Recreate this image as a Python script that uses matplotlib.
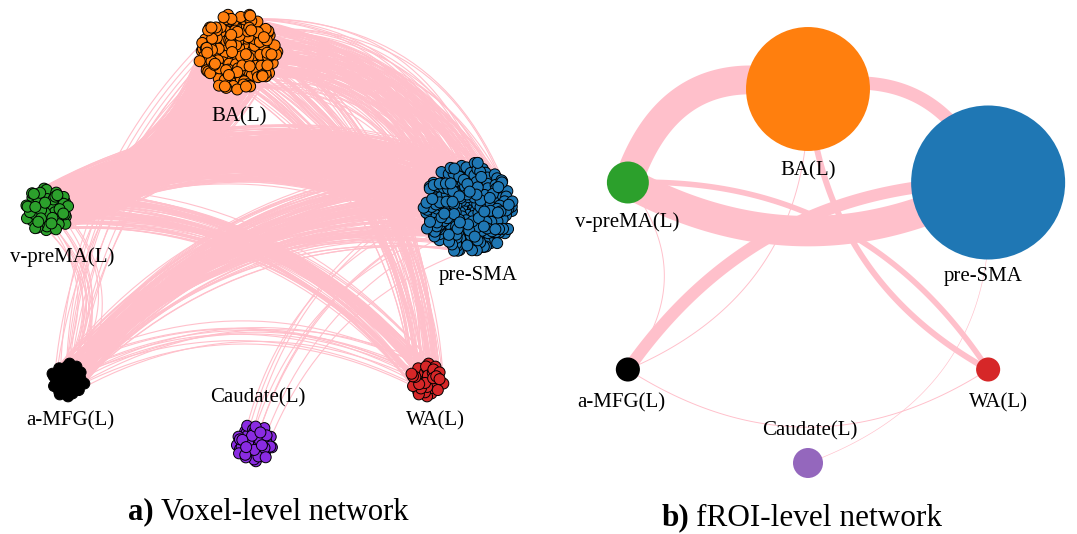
import numpy as np
import matplotlib
matplotlib.use('Agg')
import matplotlib.pyplot as plt
from matplotlib.collections import LineCollection, PatchCollection
from matplotlib.patches import Circle

plt.rcParams['font.family'] = ['Liberation Serif', 'DejaVu Serif']

#------------------------------------------------------------------------------
# Regije (ROI)
rois = ['BA(L)', 'pre-SMA', 'WA(L)', 'Caudate(L)', 'a-MFG(L)', 'v-preMA(L)']

# Broj voksela po regiji
n_voxels = [189, 258, 37, 46, 37, 64]

# Tezina regije (velicina cvora u fROI mrezi)
roi_weight = [38.4, 59.3, 1.45, 2.25, 1.45, 4.4]

# Veze izmedju regija: broj veza voksel-voksel
edge_src = ['v-preMA(L)', 'v-preMA(L)', 'BA(L)', 'a-MFG(L)', 'v-preMA(L)',
            'BA(L)', 'BA(L)', 'v-preMA(L)', 'a-MFG(L)', 'Caudate(L)']
edge_dst = ['pre-SMA', 'BA(L)', 'pre-SMA', 'pre-SMA', 'WA(L)',
            'WA(L)', 'a-MFG(L)', 'a-MFG(L)', 'WA(L)', 'pre-SMA']
edge_count = [380, 360, 165, 150, 70, 75, 12, 12, 12, 8]

#------------------------------------------------------------------------------
# Stil
voxel_colors = ['#ff7f0e', '#1f77b4', '#d62728', '#8a2be2', '#000000', '#2ca02c']
roi_colors = ['#ff7f0e', '#1f77b4', '#d62728', '#9467bd', '#000000', '#2ca02c']
edge_color = '#ffc0cb'

# Raspored klastera voksela (px)
voxel_centres = {'BA(L)': (238, 52), 'pre-SMA': (468, 208), 'WA(L)': (427, 380),
                 'Caudate(L)': (254, 443), 'a-MFG(L)': (68, 380),
                 'v-preMA(L)': (47, 210)}
# Zakrivljenost lukova (levo: vokseli, desno: regije)
voxel_rad = [0.26, -0.25, 0.35, 0.25, 0.25, 0.25, -0.2, 0.38, 0.26, 0.25]
roi_rad = [-0.27, 0.48, 0.43, 0.26, 0.28, -0.27, 0.34, 0.39, -0.32, -0.38]

# Oznake: (pomeraj x, ispod/iznad, razmak)
voxel_label = {'BA(L)': (1, 1, 21), 'pre-SMA': (10, 1, 17), 'WA(L)': (8, 1, 18),
               'Caudate(L)': (4, -1, 21), 'a-MFG(L)': (2, 1, 18),
               'v-preMA(L)': (15, 1, 19)}
roi_label = {'BA(L)': (0, 1, 20), 'pre-SMA': (-5, 1, 17), 'WA(L)': (10, 1, 21),
             'Caudate(L)': (2, -1, 17), 'a-MFG(L)': (-7, 1, 21),
             'v-preMA(L)': (-1, 1, 19)}

W, H = 1077, 534
VOXEL_R = 5.5
STEP = 2.8
PX = 72. / 100.
WIDTH_PER_EDGE = 1. / 12.5


#------------------------------------------------------------------------------
def arc(p0, p1, rad, n=30):
    p0 = np.asarray(p0, float)
    p1 = np.asarray(p1, float)
    d = p1 - p0
    c = (p0 + p1) / 2 + rad * np.array([d[1], -d[0]])
    t = np.linspace(0, 1, n)[:, None]
    return (1 - t)**2 * p0 + 2 * (1 - t) * t * c + t**2 * p1


def voxel_cloud(centre, n, step=STEP):
    # suncokret raspored, malo razbijen da ne izgleda kao resetka
    i = np.arange(n)
    r = step * np.sqrt(i + 0.5) * (1 + 0.03 * np.sin(7.1 * i))
    th = i * np.pi * (3 - np.sqrt(5)) + 0.3 * np.cos(3.7 * i)
    pts = np.column_stack([centre[0] + r * np.cos(th),
                           centre[1] + r * np.sin(th)])
    order = (np.arange(n) * 37) % n if n % 37 else (np.arange(n) * 41) % n
    return pts[order]


def circular_layout(names, cx, cy, rx, ry):
    pos = {}
    for k, name in enumerate(names):
        th = np.deg2rad(90 - 60 * k)
        pos[name] = (cx + rx * np.cos(th), cy - ry * np.sin(th))
    return pos


def draw_title(ax, x, y, bold, rest, size=22):
    ax.text(x, y, bold, fontsize=size, fontweight='bold', ha='left', va='center')
    ax.text(x + 1.5 * size, y, rest, fontsize=size, ha='left', va='center')


#------------------------------------------------------------------------------
def draw_voxel_network(ax):
    clouds = {name: voxel_cloud(voxel_centres[name], n)
              for name, n in zip(rois, n_voxels)}

    segs = []
    for u, v, cnt, rad in zip(edge_src, edge_dst, edge_count, voxel_rad):
        pu, pv = clouds[u], clouds[v]
        for k in range(cnt):
            a = (k * 7 + k // len(pu)) % len(pu)
            b = (k * 13 + k // len(pv)) % len(pv)
            segs.append(arc(pu[a], pv[b], rad, n=30))
    ax.add_collection(LineCollection(segs, colors=edge_color,
                                     linewidths=0.8, zorder=1))

    for name, col in zip(rois, voxel_colors):
        circles = [Circle(p, VOXEL_R) for p in clouds[name]]
        ax.add_collection(PatchCollection(circles, facecolor=col,
                                          edgecolor='black', linewidth=0.7,
                                          zorder=2))
        cx, cy = voxel_centres[name]
        rc = STEP * np.sqrt(len(clouds[name])) + VOXEL_R
        dx, side, gap = voxel_label[name]
        ax.text(cx + dx, cy + side * (rc + gap), name, fontsize=15,
                ha='center', va='center', zorder=3)

    draw_title(ax, 128, 512, 'a)', 'Voxel-level network')


def draw_roi_network(ax):
    pos = circular_layout(rois, 808, 276, 208, 187)
    radius = {name: 10 * np.sqrt(w) for name, w in zip(rois, roi_weight)}

    for u, v, cnt, rad in zip(edge_src, edge_dst, edge_count, roi_rad):
        pts = arc(pos[u], pos[v], rad, n=80)
        ax.plot(pts[:, 0], pts[:, 1], color=edge_color,
                linewidth=max(cnt * WIDTH_PER_EDGE, 0.6) * PX,
                solid_capstyle='butt', zorder=1)

    for name, col in zip(rois, roi_colors):
        ax.add_patch(Circle(pos[name], radius[name], facecolor=col,
                            edgecolor='none', zorder=2))
        dx, side, gap = roi_label[name]
        ax.text(pos[name][0] + dx, pos[name][1] + side * (radius[name] + gap),
                name, fontsize=15, ha='center', va='center', zorder=3)

    draw_title(ax, 662, 518, 'b)', 'fROI-level network', size=22.5)


def main():
    fig = plt.figure(figsize=(W / 100., H / 100.), dpi=100)
    ax = fig.add_axes([0, 0, 1, 1])
    ax.set_xlim(0, W)
    ax.set_ylim(H, 0)
    ax.set_aspect('equal')
    ax.axis('off')

    draw_voxel_network(ax)
    draw_roi_network(ax)

    fig.savefig('out.png', dpi=100, facecolor='white')


if __name__ == "__main__":
    main()
